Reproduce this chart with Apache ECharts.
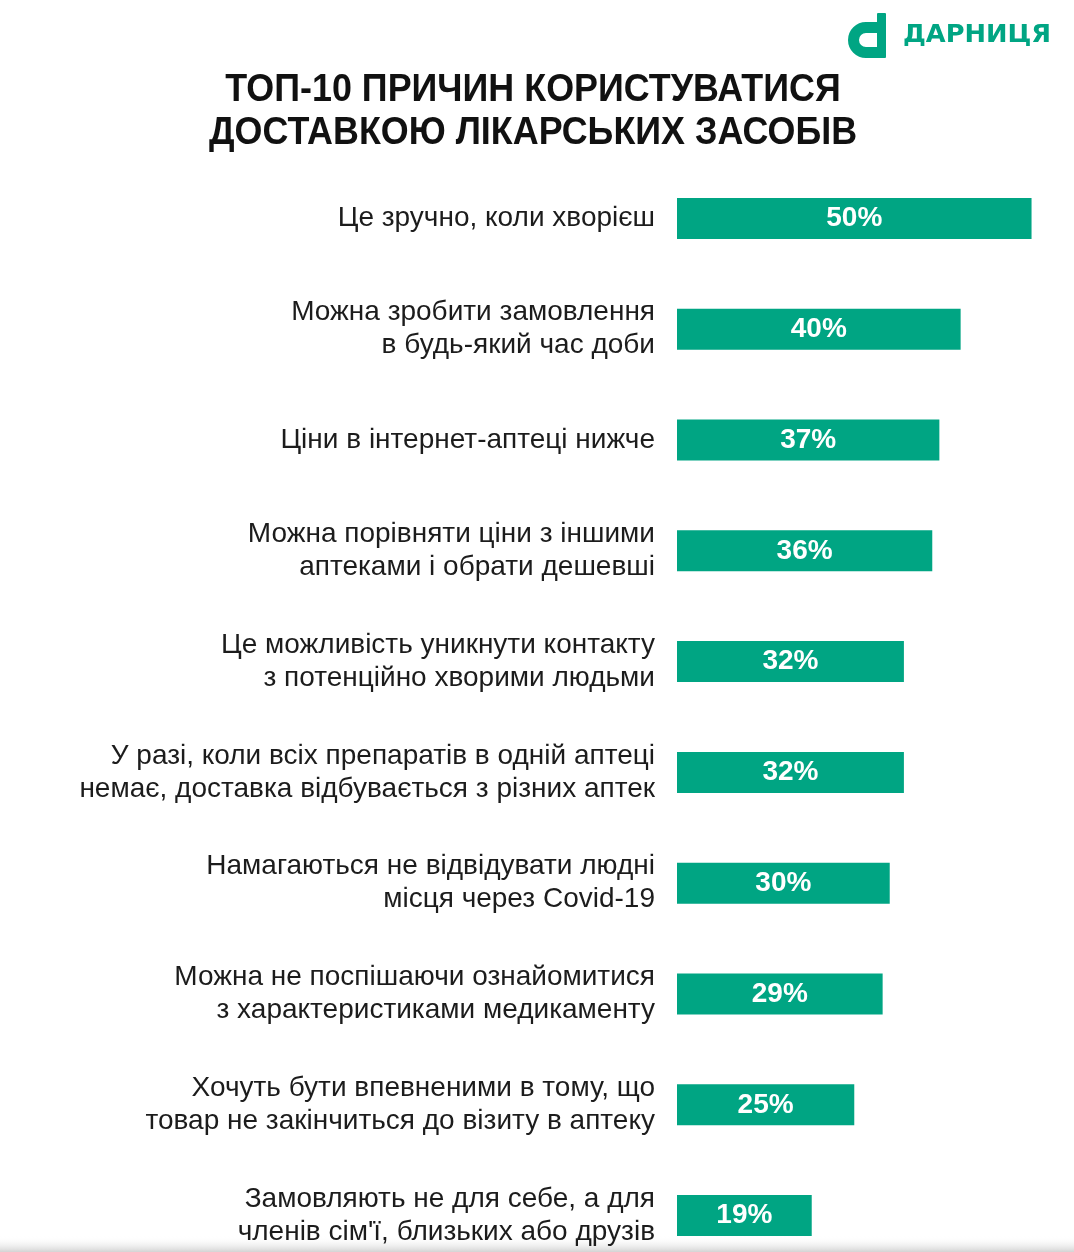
<!DOCTYPE html>
<html><head><meta charset="utf-8">
<script src="https://cdn.jsdelivr.net/npm/echarts@6/dist/echarts.min.js"></script>
<style>html,body{margin:0;padding:0;background:#fff}#c{width:1074px;height:1252px}</style>
</head><body><div id="c"></div>
<script>
const categories = [
  "Це зручно, коли хворієш",
  "Можна зробити замовлення\nв будь-який час доби",
  "Ціни в інтернет-аптеці нижче",
  "Можна порівняти ціни з іншими\nаптеками і обрати дешевші",
  "Це можливість уникнути контакту\nз потенційно хворими людьми",
  "У разі, коли всіх препаратів в одній аптеці\nнемає, доставка відбувається з різних аптек",
  "Намагаються не відвідувати людні\nмісця через Covid-19",
  "Можна не поспішаючи ознайомитися\nз характеристиками медикаменту",
  "Хочуть бути впевненими в тому, що\nтовар не закінчиться до візиту в аптеку",
  "Замовляють не для себе, а для\nчленів сім'ї, близьких або друзів"
];
const values = [50, 40, 37, 36, 32, 32, 30, 29, 25, 19];
const titleLines = ["ТОП-10 ПРИЧИН КОРИСТУВАТИСЯ", "ДОСТАВКОЮ ЛІКАРСЬКИХ ЗАСОБІВ"];
const brand = "ДАРНИЦЯ";

const green = '#00a583';
const chart = echarts.init(document.getElementById('c'));
chart.setOption({
  backgroundColor: '#fff',
  animation: false,
  grid: { left: 677, top: 163, width: 390, height: 1108, outerBoundsMode: 'none', containLabel: false },
  xAxis: { type: 'value', min: 0, max: 55, show: false },
  yAxis: {
    type: 'category', inverse: true, data: categories,
    axisLine: { show: false }, axisTick: { show: false },
    axisLabel: {
      margin: 22, fontSize: 28, lineHeight: 33, color: '#1c1c1c', align: 'right',
      fontFamily: "'Liberation Sans', Arial, sans-serif"
    }
  },
  series: [{
    type: 'bar', data: values, barWidth: 41,
    itemStyle: { color: green },
    label: {
      show: true, position: 'inside', formatter: '{c}%', color: '#fff',
      fontSize: 28, fontWeight: 'bold', fontFamily: "'Liberation Sans', Arial, sans-serif"
    }
  }],
  graphic: [
    { type: 'text', x: 533, y: 112, scaleX: 0.92,
      style: { text: titleLines.join('\n'), align: 'center', verticalAlign: 'middle', lineHeight: 43,
        fill: '#111', fontSize: 39, fontWeight: 'bold',
        fontFamily: "'Liberation Sans', Arial, sans-serif" } },
    { type: 'arc', shape: { cx: 866, cy: 40, r: 12.5, startAngle: Math.PI/2, endAngle: Math.PI*1.5, clockwise: true },
      style: { stroke: green, lineWidth: 11, fill: null } },
    { type: 'rect', shape: { x: 865, y: 22, width: 13, height: 11 }, style: { fill: green } },
    { type: 'rect', shape: { x: 865, y: 47, width: 13, height: 11 }, style: { fill: green } },
    { type: 'rect', shape: { x: 877, y: 13, width: 9, height: 45, r: 1 }, style: { fill: green } },
    { type: 'text', x: 903, y: 36, scaleX: 1.07,
      style: { text: brand, fill: green, fontSize: 24, fontWeight: 'bold', verticalAlign: 'middle',
      fontFamily: "'DejaVu Sans', sans-serif" } },
    { type: 'rect', shape: { x: 0, y: 1236, width: 1074, height: 16 },
      style: { fill: new echarts.graphic.LinearGradient(0, 0, 0, 1, [{offset: 0, color: 'rgba(255,255,255,0)'}, {offset: 1, color: 'rgba(200,200,200,0.8)'}]) } }
  ]
});
</script></body></html>
